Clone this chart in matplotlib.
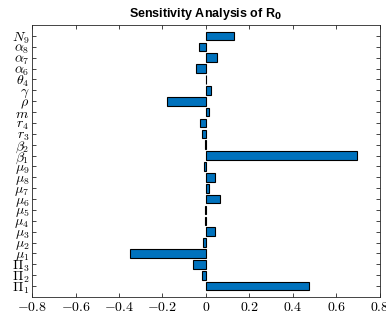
import matplotlib
matplotlib.use("Agg")
import matplotlib.pyplot as plt
import numpy as np

plt.rcParams['mathtext.fontset'] = 'cm'

params = [r'$\Pi_1$', r'$\Pi_2$', r'$\Pi_3$', r'$\mu_1$', r'$\mu_2$', r'$\mu_3$', r'$\mu_4$',
          r'$\mu_5$', r'$\mu_6$', r'$\mu_7$', r'$\mu_8$', r'$\mu_9$', r'$\beta_1$', r'$\beta_2$',
          r'$r_3$', r'$r_4$', r'$m$', r'$\rho$', r'$\gamma$', r'$\theta_4$', r'$\alpha_6$',
          r'$\alpha_7$', r'$\alpha_8$', r'$N_9$']
sens = [0.472, -0.02, -0.06, -0.35, -0.012, 0.043, -0.006, -0.006, 0.064, 0.012, 0.04,
        -0.009, 0.696, -0.002, -0.018, -0.026, 0.015, -0.18, 0.022, 0.002, -0.047,
        0.049, -0.031, 0.13]
xticks = [-0.8, -0.6, -0.4, -0.2, 0, 0.2, 0.4, 0.6, 0.8]

fig = plt.figure(figsize=(3.86, 3.26), dpi=100)
ax = fig.add_axes([0.083, 0.089, 0.901, 0.834])
pos = np.arange(1, len(params) + 1)
ax.barh(pos, sens, height=0.8, color='#0072BD', edgecolor='black', linewidth=0.8)

ax.set_xlim(-0.8, 0.8)
ax.set_ylim(0, 25)
ax.set_yticks(pos)
ax.set_yticklabels(params, fontsize=10)
ax.set_xticks(xticks)
ax.set_xticklabels([r'$%g$' % t if t != 0 else r'$0$' for t in xticks], fontsize=10)
ax.tick_params(direction='in', top=True, right=True, length=3, width=0.6, colors='#262626',
               labelcolor='black', pad=2)
for s in ax.spines.values():
    s.set_color('#262626')
    s.set_linewidth(0.6)

ax.set_title(r'Sensitivity Analysis of R$_\mathbf{0}$', fontsize=9, fontweight='bold',
             family='Liberation Sans', math_fontfamily='dejavusans', pad=6)

fig.savefig('out.png', dpi=100)
